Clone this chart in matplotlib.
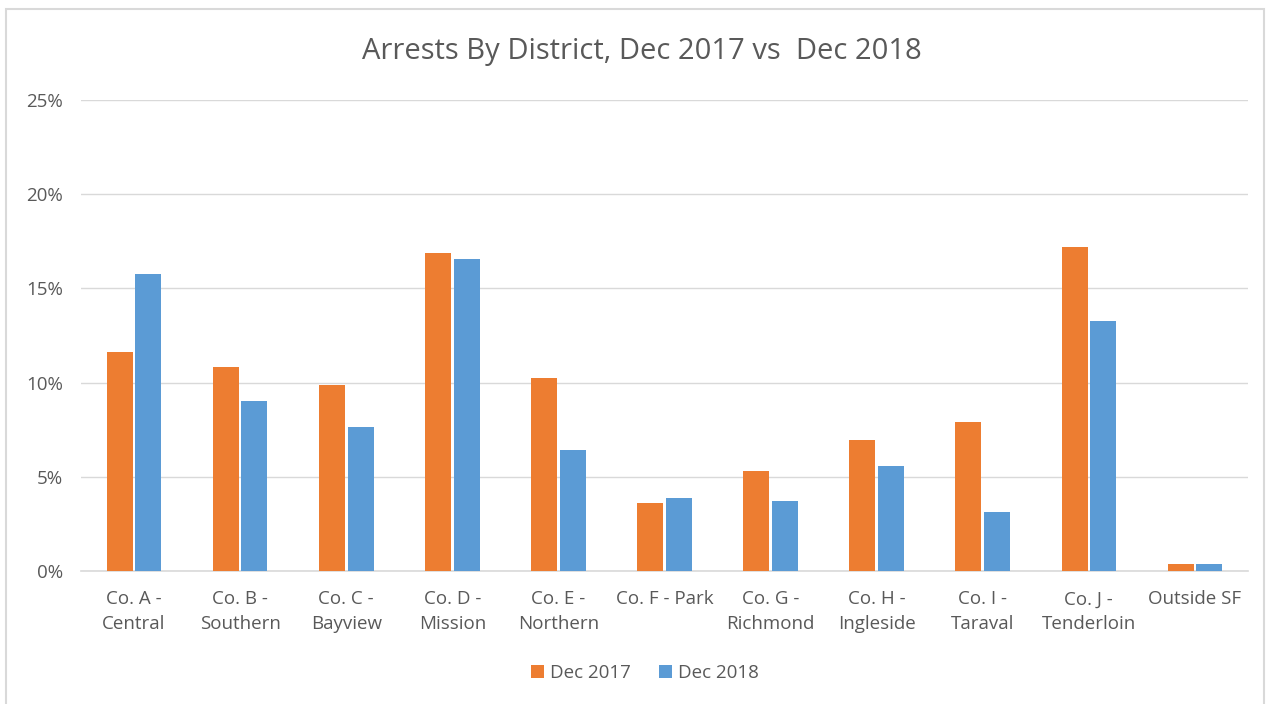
import matplotlib.pyplot as plt
from matplotlib.patches import Rectangle
from matplotlib.ticker import FuncFormatter
import numpy as np

categories = ["Co. A -\nCentral", "Co. B -\nSouthern", "Co. C -\nBayview", "Co. D -\nMission",
              "Co. E -\nNorthern", "Co. F - Park", "Co. G -\nRichmond", "Co. H -\nIngleside",
              "Co. I -\nTaraval", "Co. J -\nTenderloin", "Outside SF"]
dec_2017 = [11.62, 10.82, 9.88, 16.88, 10.25, 3.63, 5.30, 6.95, 7.91, 17.20, 0.35]
dec_2018 = [15.77, 9.01, 7.64, 16.56, 6.40, 3.87, 3.70, 5.55, 3.12, 13.28, 0.35]
yticks = [0, 5, 10, 15, 20, 25]

plt.rcParams['font.family'] = ['Open Sans', 'DejaVu Sans']
text_color = '#595959'

fig = plt.figure(figsize=(12.71, 7.04), dpi=100)
# chart border
fig.patches.append(Rectangle((6 / 1271, -0.01), 1258 / 1271, 1 - 9 / 704 + 0.01,
                             transform=fig.transFigure, fill=False,
                             edgecolor='#d9d9d9', linewidth=1.5))

ax = fig.add_axes([81 / 1271, 1 - 571 / 704, (1248 - 81) / 1271, (571 - 100) / 704])

x = np.arange(len(categories))
w = 0.245
ax.bar(x - 0.135, dec_2017, w, color='#ED7D31', label='Dec 2017', zorder=3)
ax.bar(x + 0.135, dec_2018, w, color='#5B9BD5', label='Dec 2018', zorder=3)

ax.set_xlim(-0.5, len(categories) - 0.5)
ax.set_ylim(0, 25)
ax.set_yticks(yticks)
ax.yaxis.set_major_formatter(FuncFormatter(lambda v, p: f"{v:.0f}%"))
ax.set_xticks(x)
ax.set_xticklabels(categories, fontsize=13.5, color=text_color, linespacing=1.45)
ax.tick_params(axis='y', labelsize=13.5, labelcolor=text_color, length=0, pad=13)
ax.tick_params(axis='x', length=0, pad=14)
ax.grid(axis='y', color='#d9d9d9', linewidth=1, zorder=0)

for s in ['top', 'right', 'left']:
    ax.spines[s].set_visible(False)
ax.spines['bottom'].set_color('#d9d9d9')
ax.spines['bottom'].set_linewidth(1.2)

fig.text(642 / 1271, 1 - 51 / 704, "Arrests By District, Dec 2017 vs  Dec 2018",
         ha='center', va='center', fontsize=21, color=text_color)

ax.legend(loc='center', bbox_to_anchor=(645 / 1271, 1 - 673 / 704),
          bbox_transform=fig.transFigure, ncol=2, frameon=False, fontsize=13.5,
          labelcolor=text_color, handlelength=0.7, handleheight=0.7,
          handletextpad=0.3, columnspacing=1.5)

fig.savefig('out.png', dpi=100)
